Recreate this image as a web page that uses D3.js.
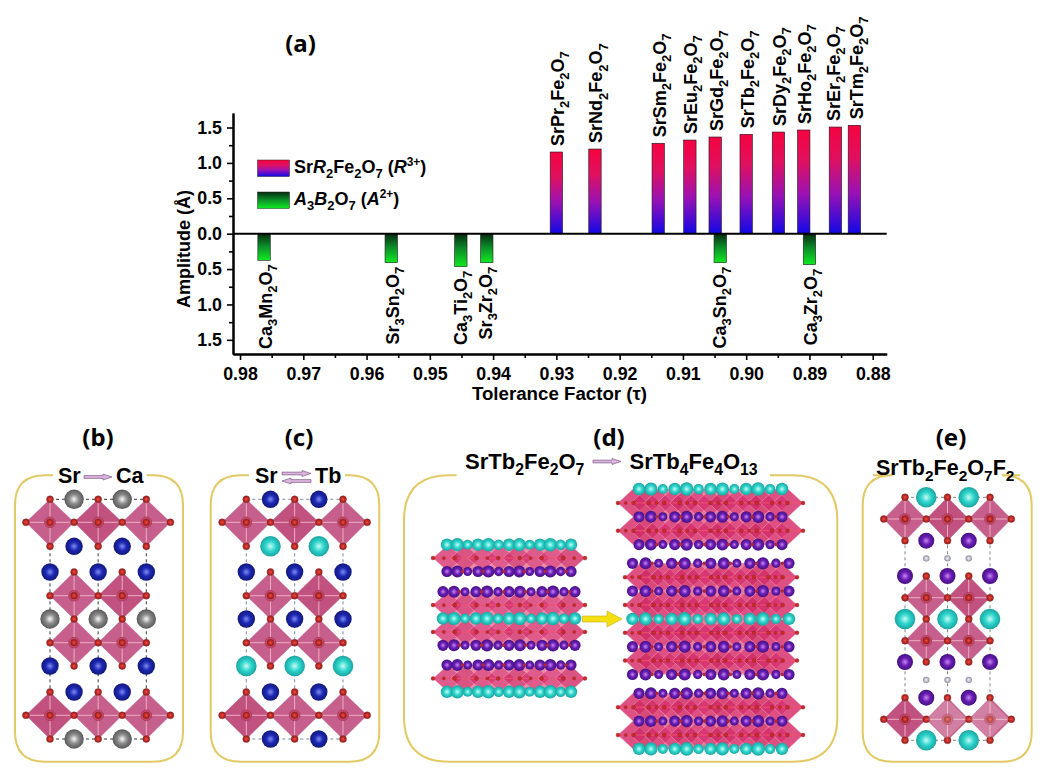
<!DOCTYPE html>
<html><head><meta charset="utf-8">
<script src="https://cdn.jsdelivr.net/npm/d3@7"></script>
<style>html,body{margin:0;padding:0;background:#fff}svg{display:block}text{font-family:"Liberation Sans",Arial,sans-serif;font-weight:bold;fill:#000}.pt{font-family:"Noto Sans",sans-serif}</style>
</head><body><script>
// ---- data ----
const rNames = ["SrPr_2Fe_2O_7","SrNd_2Fe_2O_7","SrSm_2Fe_2O_7","SrEu_2Fe_2O_7","SrGd_2Fe_2O_7","SrTb_2Fe_2O_7","SrDy_2Fe_2O_7","SrHo_2Fe_2O_7","SrEr_2Fe_2O_7","SrTm_2Fe_2O_7"];
const rTau = [0.9300,0.9239,0.9139,0.9089,0.9049,0.9000,0.8949,0.8909,0.8859,0.8829];
const rAmp = [1.154,1.196,1.277,1.323,1.366,1.404,1.436,1.465,1.507,1.531];
const aNames = ["Ca_3Mn_2O_7","Sr_3Sn_2O_7","Ca_3Ti_2O_7","Sr_3Zr_2O_7","Ca_3Sn_2O_7","Ca_3Zr_2O_7"];
const aTau = [0.9762,0.9561,0.9451,0.9410,0.9041,0.8900];
const aAmp = [0.376,0.41,0.466,0.41,0.41,0.438];
const xTicks = [0.98,0.97,0.96,0.95,0.94,0.93,0.92,0.91,0.90,0.89,0.88];
const xMinor = [0.975,0.965,0.955,0.945,0.935,0.925,0.915,0.905,0.895,0.885];
const yTicks = [-1.5,-1,-0.5,0,0.5,1,1.5];
const yMinor = [-1.25,-0.75,-0.25,0.25,0.75,1.25];
// crystal structures: species per A-site layer (panels b, c, e)
const layersB = ["Ca","Sr","Sr","Ca","Sr","Sr","Ca"];
const layersC = ["Sr","Tb","Sr","Sr","Tb","Sr","Sr"];
const layersE = ["Tb","Ln","Ln","Tb","Ln","Ln","Tb"];
// stacking sequences for panel d
const dLeft = [["Tb","oct","Ln"],["Ln","oct","Tb","oct","Ln"],["Ln","oct","Tb"]];
const dRight = [["Tb","oct","Ln","oct","Ln"],["Ln","oct","Ln","oct","Tb","oct","Ln","oct","Ln"],["Ln","oct","Ln","oct","Tb"]];

const svg = d3.select("body").append("svg").attr("width",1050).attr("height",783);
const defs = svg.append("defs");
function lin(id,stops){const g=defs.append("linearGradient").attr("id",id).attr("x1",0).attr("y1",0).attr("x2",0).attr("y2",1);
  stops.forEach(s=>g.append("stop").attr("offset",s[0]).attr("stop-color",s[1]));}
lin("gR",[[0,"#f5033f"],[0.3,"#e0105f"],[0.62,"#9a12b4"],[1,"#1208e6"]]);
lin("gA",[[0,"#062a10"],[0.45,"#0b8a28"],[1,"#10ea22"]]);
function rad(id,c0,c1,c2){const g=defs.append("radialGradient").attr("id",id).attr("cx",.5).attr("cy",.5).attr("r",.55);
  g.append("stop").attr("offset",0).attr("stop-color",c0);g.append("stop").attr("offset",.45).attr("stop-color",c1);g.append("stop").attr("offset",1).attr("stop-color",c2);}
rad("sp-Ca","#f8f8f8","#8a8a8a","#4e4e4e");
rad("sp-Sr","#7f8cf0","#1c28b4","#10156e");
rad("sp-Tb","#c8fbf6","#2ed6cc","#189a98");
rad("sp-Ln","#c888f4","#6a1eb4","#3c0e78");
rad("sp-O","#f0504a","#c82a26","#7a1f1a");
rad("sp-F","#f6f6f8","#c4c4d0","#7c7c90");

// rich text: _n subscript, ^{x} superscript, *x* italic
function rich(sel,str,size){
  const re=/_(\d+)|\^\{([^}]+)\}|\*([^*]+)\*|([^_^*]+)/g;let m,shift=0;const sub=size*0.72;
  while((m=re.exec(str))){
    const t=sel.append("tspan");let want=0,fs=size;
    if(m[1]){t.text(m[1]);want=size*0.28;fs=sub;}
    else if(m[2]){t.text(m[2]);want=-size*0.38;fs=size*0.66;}
    else if(m[3]){t.text(m[3]).attr("font-style","italic");}
    else t.text(m[4]);
    t.attr("font-size",fs).attr("dy",want-shift);shift=want;
  }
}

// ---- panel (a) ----
const x = d3.scaleLinear().domain([0.98111,0.87779]).range([233,886.7]);
const y = d3.scaleLinear().domain([1.705,-1.70]).range([113,354]);
const gA = svg.append("g");
function bars(tau,vals,fill,neg){
  gA.append("g").selectAll("rect").data(vals).join("rect")
    .attr("x",(d,i)=>x(tau[i])-6.2).attr("width",12.4)
    .attr("y",d=>neg?y(0):y(d)).attr("height",d=>Math.abs(y(d)-y(0)))
    .attr("fill",fill).attr("stroke","#1a1a1a").attr("stroke-width",.6);
}
bars(aTau,aAmp.map(d=>-d),"url(#gA)",true);
bars(rTau,rAmp,"url(#gR)",false);
const nudge={"SrEr_2Fe_2O_7":-2.5,"SrTm_2Fe_2O_7":1.5,"Sr_3Zr_2O_7":-2,"Ca_3Sn_2O_7":-2,"Ca_3Ti_2O_7":-1};
function labels(names,tau,vals,neg){
  names.forEach((n,i)=>{
    const px=x(tau[i])+7.5+(nudge[n]||0), py=neg?y(-vals[i])+4:y(vals[i])-6;
    const t=gA.append("text").attr("transform",`translate(${px},${py}) rotate(-90)`)
      .attr("text-anchor",neg?"end":"start");
    rich(t,n,18);
  });
}
labels(rNames,rTau,rAmp,false);
labels(aNames,aTau,aAmp,true);
const axX=d3.axisBottom(x).tickValues(xTicks).tickSize(6).tickSizeOuter(0).tickFormat(d3.format(".2f")).tickPadding(7);
const axXm=d3.axisBottom(x).tickValues(xMinor).tickSize(4).tickSizeOuter(0).tickFormat("");
const axY=d3.axisLeft(y).tickValues(yTicks).tickSize(6).tickSizeOuter(0).tickFormat(d=>d3.format(".1f")(Math.abs(d))).tickPadding(5);
const axYm=d3.axisLeft(y).tickValues(yMinor).tickSize(4).tickSizeOuter(0).tickFormat("");
[axXm,axX].forEach(a=>gA.append("g").attr("transform","translate(0,354)").call(a));
[axYm,axY].forEach(a=>gA.append("g").attr("transform","translate(233,0)").call(a));
gA.selectAll(".domain").attr("stroke","#000").attr("stroke-width",2);
gA.selectAll(".tick line").attr("stroke","#000").attr("stroke-width",1.6);
gA.selectAll(".tick text").attr("font-size",17.8).attr("fill","#000").style("font-family",'"Liberation Sans",Arial,sans-serif').style("font-weight","bold");
gA.append("line").attr("x1",233).attr("x2",886.7).attr("y1",y(0)).attr("y2",y(0)).attr("stroke","#000").attr("stroke-width",2);
gA.append("text").attr("x",559.5).attr("y",399.5).attr("text-anchor","middle").attr("font-size",18.7).text("Tolerance Factor (τ)");
gA.append("text").attr("transform","translate(190,249) rotate(-90)").attr("text-anchor","middle").attr("font-size",18).text("Amplitude (Å)");
gA.append("text").attr("class","pt").attr("x",300.5).attr("y",52).attr("text-anchor","middle").attr("font-size",24).text("(a)");
const legend=[["url(#gR)","Sr*R*_2Fe_2O_7 (*R*^{3+})",160,173],["url(#gA)","*A*_3*B*_2O_7 (*A*^{2+})",192,205]];
legend.forEach(l=>{
  gA.append("rect").attr("x",257.5).attr("y",l[2]).attr("width",32).attr("height",16.5).attr("fill",l[0]).attr("stroke","#222").attr("stroke-width",.5);
  rich(gA.append("text").attr("x",294).attr("y",l[3]),l[1],18);
});

// ---- shared drawing ----
function frame(g,l,r,t,b,rad,g0,g1){
  g.append("path").attr("fill","none").attr("stroke","#e2c964").attr("stroke-width",2)
   .attr("d",`M${g0},${t}H${l+rad}Q${l},${t} ${l},${t+rad}V${b-rad}Q${l},${b} ${l+rad},${b}H${r-rad}Q${r},${b} ${r},${b-rad}V${t+rad}Q${r},${t} ${r-rad},${t}H${g1}`);
}
function arrow(g,x0,x1,yy,dir,fill){
  const a=dir>0?x0:x1,e=dir>0?x1:x0,h=dir*9;
  g.append("path").attr("d",`M${a},${yy-1.4}H${e-h}V${yy-3}L${e},${yy}L${e-h},${yy+3}V${yy+1.4}H${a}Z`)
   .attr("fill",fill||"#dcb4dc").attr("stroke","#6a4a7a").attr("stroke-width",.6);
}
function ptitle(s,cx){svg.append("text").attr("class","pt").attr("x",cx).attr("y",446).attr("text-anchor","middle").attr("font-size",24).text(s);}
function dot(g,cx,cy,r,id){g.append("circle").attr("cx",cx).attr("cy",cy).attr("r",r).attr("fill",`url(#sp-${id})`);}

// perovskite cell (panels b, c, e)
const octs=[[0,1],[1,1],[2,1],[.5,4],[1.5,4],[.5,6],[1.5,6],[0,9],[1,9],[2,9]];
const aSites=[[0,[.5,1.5]],[2,[.5,1.5]],[3,[0,1,2]],[5,[0,1,2]],[7,[0,1,2]],[8,[.5,1.5]],[10,[.5,1.5]]];
const radii={Ca:9.7,Sr:8.7,Tb:10.3,Ln:8};
function cell(species,u,v,fRows,dash){
  const g=svg.append("g");
  [0,1,2].forEach(k=>g.append("line").attr("x1",u(k)).attr("x2",u(k)).attr("y1",v(0)).attr("y2",v(10)).attr("stroke",dash).attr("stroke-width",.9).attr("stroke-dasharray","3 3"));
  [0,10].forEach(k=>g.append("line").attr("x1",u(0)).attr("x2",u(2)).attr("y1",v(k)).attr("y2",v(k)).attr("stroke",dash).attr("stroke-width",.9).attr("stroke-dasharray","3 3"));
  g.selectAll("path.o").data(octs).join("path").attr("class","o")
    .attr("d",d=>`M${u(d[0]-.5)},${v(d[1])}L${u(d[0])},${v(d[1]-1)}L${u(d[0]+.5)},${v(d[1])}L${u(d[0])},${v(d[1]+1)}Z`)
    .attr("fill",(d,i)=>i%3==1?"#c1527f":"#c65f8b").attr("stroke","#b06088").attr("stroke-width",.4);
  octs.forEach(d=>{
    g.append("path").attr("d",`M${u(d[0]-.5)},${v(d[1])}H${u(d[0]+.5)}M${u(d[0])},${v(d[1]-1)}V${v(d[1]+1)}`).attr("stroke","#f2b8c8").attr("stroke-width",.9);
  });
  const seen=new Set(),ox=[];
  octs.forEach(d=>[[d[0]-.5,d[1]],[d[0]+.5,d[1]],[d[0],d[1]-1],[d[0],d[1]+1]].forEach(p=>{const k=p.join();if(!seen.has(k)){seen.add(k);ox.push(p);}}));
  aSites.forEach((s,i)=>s[1].forEach(c=>dot(g,u(c),v(s[0]),radii[species[i]],species[i])));
  ox.forEach(p=>{g.append("circle").attr("cx",u(p[0])).attr("cy",v(p[1])).attr("r",3.5).attr("fill","url(#sp-O)").attr("stroke","#8a2a24").attr("stroke-width",.4);});
  octs.forEach(d=>{
    g.append("circle").attr("cx",u(d[0])).attr("cy",v(d[1])).attr("r",5.4).attr("fill","#c8486c").attr("stroke","#a02c50").attr("stroke-width",.6);
    g.append("circle").attr("cx",u(d[0])).attr("cy",v(d[1])).attr("r",3.4).attr("fill","url(#sp-O)").attr("stroke","#8a2a24").attr("stroke-width",.4);
  });
  fRows.forEach(r=>[.5,1,1.5].forEach(c=>{g.append("circle").attr("cx",u(c)).attr("cy",v(r)).attr("r",3.2).attr("fill","url(#sp-F)");}));
  return g;
}
const rowsBC=[499.3,522.3,546.3,572,595.7,619,642.7,666,692,715.3,739];
const rowsE=[497.3,519,540.7,576,597.7,619,640.7,662,697.7,719.3,740.3];
const idx=d3.range(11);
// (b)
ptitle("(b)",98);
frame(svg,15,183,475.3,761.7,30,53,146.7);
cell(layersB,d3.scaleLinear().domain([0,2]).range([50,146.3]),d3.scaleLinear().domain(idx).range(rowsBC),[],"#222");
svg.append("text").attr("x",58).attr("y",483).attr("font-size",21.5).text("Sr");
svg.append("text").attr("x",116).attr("y",483).attr("font-size",21.5).text("Ca");
arrow(svg,84,112,477,1);
// (c)
ptitle("(c)",299);
frame(svg,210.7,379.3,475.3,761.7,30,249,345);
cell(layersC,d3.scaleLinear().domain([0,2]).range([246.3,343]),d3.scaleLinear().domain(idx).range(rowsBC),[],"#6a7a9a");
svg.append("text").attr("x",255).attr("y",483).attr("font-size",21.5).text("Sr");
svg.append("text").attr("x",315).attr("y",483).attr("font-size",21.5).text("Tb");
arrow(svg,282,311,473.5,1);arrow(svg,282,311,481,-1);
// (e)
ptitle("(e)",951);
frame(svg,862.7,1031.7,475.3,761.7,30,873,1020);
cell(layersE,d3.scaleLinear().domain([0,2]).range([905,990]),d3.scaleLinear().domain(idx).range(rowsE),[2.5,7.5],"#777");
rich(svg.append("text").attr("x",876).attr("y",474.5),"SrTb_2Fe_2O_7F_2",21.5);
// watermark on the lower octahedra
[[947,719,20],[989,719,20]].forEach(w=>svg.append("path").attr("d",`M${w[0]-w[2]},${w[1]}L${w[0]},${w[1]-w[2]}L${w[0]+w[2]},${w[1]}L${w[0]},${w[1]+w[2]}Z`).attr("fill","#fff").attr("opacity",.2));

// (d)
ptitle("(d)",609);
frame(svg,404,837.3,475.3,761.7,45,456.7,770);
rich(svg.append("text").attr("x",465).attr("y",469),"SrTb_2Fe_2O_7",22);
rich(svg.append("text").attr("x",629.5).attr("y",469),"SrTb_4Fe_4O_13",22);
arrow(svg,593,621,461.5,1);
const sizeCycle=[6.2,6.6,5,6.2,6.8,5.2];
function layered(top,seq,step,a0,a1,o0,o1,nO,hw,base,alpha){
  const g=svg.append("g");
  const ry=d3.scaleLinear().domain([0,1]).range([top,top+step]);
  const sx=d3.scalePoint().domain(d3.range(13)).range([a0,a1]);
  const ox=d3.scalePoint().domain(d3.range(nO)).range([o0+hw,o1-hw]);
  seq.forEach((k,i)=>{ if(k!=="oct")return;
    g.append("path").attr("d",`M${o0},${ry(i)}L${o0+hw},${ry(i)-step}H${o1-hw}L${o1},${ry(i)}L${o1-hw},${ry(i)+step}H${o0+hw}Z`).attr("fill",base);
    d3.range(nO).forEach(j=>{
      const cx=ox(j),cy=ry(i);
      g.append("path").attr("d",`M${cx-hw},${cy}L${cx},${cy-step}L${cx+hw},${cy}L${cx},${cy+step}Z`)
       .attr("fill",j%3==1?"#c00848":"#d01860").attr("fill-opacity",alpha).attr("stroke","#f8c4d6").attr("stroke-width",.4);
    });
  });
  seq.forEach((k,i)=>{ if(k==="oct")return;
    d3.range(13).forEach(j=>dot(g,sx(j),ry(i),sizeCycle[j%6]*(k==="Tb"?1:.9),k));
    if(k==="Ln") d3.range(12).filter(j=>j%2).forEach(j=>{g.append("circle").attr("cx",(sx(j)+sx(j+1))/2).attr("cy",ry(i)).attr("r",1.8).attr("fill","#b02838");});
  });
  seq.forEach((k,i)=>{ if(k!=="oct")return;
    g.append("line").attr("x1",o0).attr("x2",o1).attr("y1",ry(i)).attr("y2",ry(i)).attr("stroke","#f05070").attr("stroke-width",1);
    d3.range(nO*2-1).forEach(j=>{const cx=o0+(o1-o0)*j/(nO*2-2);
      if(j%2==0||j%4==1) g.append("circle").attr("cx",cx).attr("cy",ry(i)).attr("r",j%2?1.6:2).attr("fill","#c82a2a").attr("stroke","#7a1f1a").attr("stroke-width",.3);});
  });
}
layered(544.7,dLeft[0],13.4,447,571,433,585,8,15,"#ea88a8",.4);
layered(591.7,dLeft[1],13.4,443,575,433,585,8,15,"#ea88a8",.4);
layered(665,dLeft[2],13.4,447,571,433,585,8,15,"#ea88a8",.4);
layered(489,dRight[0],13.9,639,782,618,803,13,15,"#e8789c",.42);
layered(563.3,dRight[1],13.9,632.5,789,625,797,13,15,"#e8789c",.42);
layered(693.3,dRight[2],13.9,639,782,618,803,13,15,"#e8789c",.42);
svg.append("path").attr("d","M582.5,616H607V611L622,619L607,627V622H582.5Z").attr("fill","#f4e010").attr("stroke","#c8a818").attr("stroke-width",.6);
</script></body></html>
